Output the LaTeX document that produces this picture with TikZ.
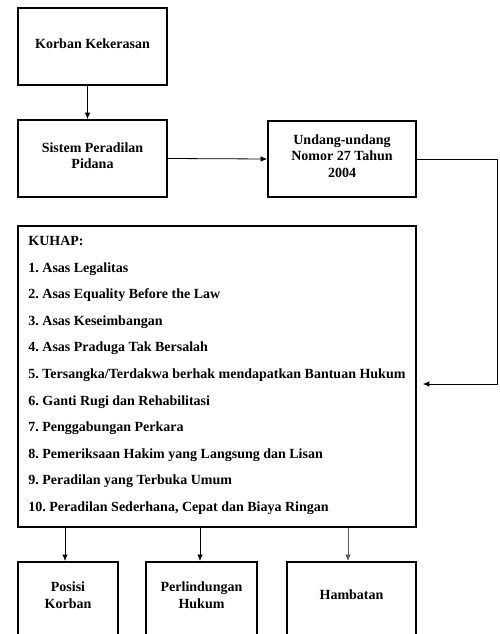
\documentclass[tikz,border=0pt]{standalone}
\usepackage{fontspec}
\setmainfont{Liberation Serif}
\usetikzlibrary{positioning,arrows.meta}
\tikzset{
	kotak/.style={draw,line width=1.6pt,align=center,inner sep=0pt,text depth=6pt,
		font=\bfseries\fontsize{14}{16.5}\selectfont},
	teks/.style={align=center,inner sep=0pt,font=\bfseries\fontsize{14}{16.5}\selectfont},
	panah/.style={->,line width=0.8pt}
}
\begin{document}
\frenchspacing
\begin{tikzpicture}[>={Latex[length=6.5pt,width=5.5pt]},x=1pt,y=-1pt]
	\useasboundingbox (0,0) rectangle (500,634);
	\clip (0,0) rectangle (500,634);
	% baris atas
	\node[kotak,minimum width=149,minimum height=77] (korban) at (92.5,46.5) {Korban Kekerasan};
	\node[kotak,minimum width=149,minimum height=77] (sistem) at (92.5,158.5) {Sistem Peradilan\\Pidana};
	\node[kotak,minimum width=148,minimum height=76] (uu) at (342,159) {Undang-undang\\Nomor 27 Tahun\\2004};
	\draw[panah] ([xshift=-5pt]korban.south) -- ([xshift=-5pt]sistem.north);
	\draw[panah] (sistem.east) -- (uu.west);
	% KUHAP
	\node[kotak,minimum width=398,minimum height=301] (kuhap) at (217,376.5) {};
	\path (kuhap.west) ++(11,-1) node[teks,anchor=west,align=left,
		font=\bfseries\fontsize{14}{26.6}\selectfont] (isi) {%
		KUHAP:\\
		1. Asas Legalitas\\
		2. Asas Equality Before the Law\\
		3. Asas Keseimbangan\\
		4. Asas Praduga Tak Bersalah\\
		5. Tersangka/Terdakwa berhak mendapatkan Bantuan Hukum\\
		6. Ganti Rugi dan Rehabilitasi\\
		7. Penggabungan Perkara\\
		8. Pemeriksaan Hakim yang Langsung dan Lisan\\
		9. Peradilan yang Terbuka Umum\\
		10. Peradilan Sederhana, Cepat dan Biaya Ringan};
	\coordinate (belok) at (497,384);
	\draw[panah] (uu.east) -| (belok) -- ([xshift=6pt]kuhap.east |- belok);
	% baris bawah
	\node[kotak,minimum width=100,minimum height=100,anchor=north] (posisi) at (68,561) {};
	\node[kotak,minimum width=111,minimum height=100,anchor=north] (lindung) at (201.5,561) {};
	\node[kotak,minimum width=129,minimum height=100,anchor=north] (hambat) at (351.5,561) {};
	\path (posisi.north) ++(0,34) node[teks] (tposisi) {Posisi\\Korban};
	\path (lindung.north) ++(0,34) node[teks] (tlindung) {Perlindungan\\Hukum};
	\path (hambat.north) ++(0,34) node[teks] (thambat) {Hambatan};
	\draw[panah] ([xshift=-3pt]kuhap.south -| posisi.north) -- ([xshift=-3pt]posisi.north);
	\draw[panah] ([xshift=-1.5pt]kuhap.south -| lindung.north) -- ([xshift=-1.5pt]lindung.north);
	\draw[panah,black!65] ([xshift=-3.5pt]kuhap.south -| hambat.north) -- ([xshift=-3.5pt]hambat.north);
\end{tikzpicture}
\end{document}
